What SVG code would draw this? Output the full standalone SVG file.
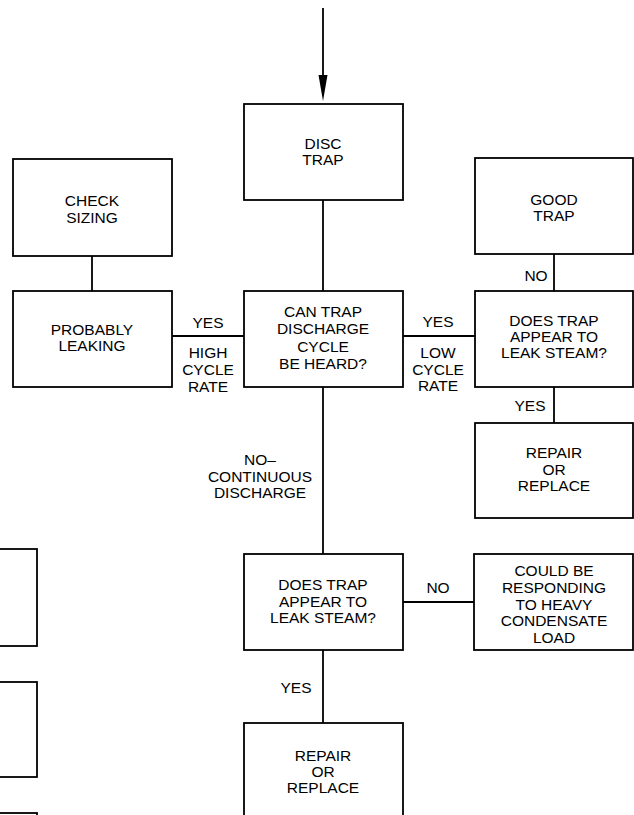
<svg xmlns="http://www.w3.org/2000/svg" width="634" height="815" viewBox="0 0 634 815">
<style>
rect.box{fill:#fff;stroke:#000;stroke-width:1.8}
line{stroke:#000;stroke-width:1.8;fill:none}
text{font-family:"Liberation Sans",Arial,sans-serif;font-size:15.5px;fill:#000;text-anchor:middle}
</style>
<g id="connectors">
<line x1="323" y1="8" x2="323" y2="75"/>
<path d="M318.5,75 L327.5,75 L323,101 Z" fill="#000" stroke="none"/>
<line x1="323" y1="200" x2="323" y2="291"/>
<line x1="92" y1="256" x2="92" y2="291"/>
<line x1="172" y1="336" x2="244" y2="336"/>
<line x1="403" y1="336" x2="475" y2="336"/>
<line x1="554" y1="254" x2="554" y2="291"/>
<line x1="554" y1="387" x2="554" y2="423"/>
<line x1="323" y1="387" x2="323" y2="554"/>
<line x1="403" y1="602" x2="474" y2="602"/>
<line x1="323" y1="650" x2="323" y2="723"/>
</g>
<g id="labels">
<text x="208" y="328">YES</text>
<text x="208" y="358">HIGH</text>
<text x="208" y="375">CYCLE</text>
<text x="208" y="392">RATE</text>
<text x="438" y="327">YES</text>
<text x="438" y="358">LOW</text>
<text x="438" y="375">CYCLE</text>
<text x="438" y="391">RATE</text>
<text x="536" y="281">NO</text>
<text x="530" y="411">YES</text>
<text x="260" y="465">NO–</text>
<text x="260" y="482">CONTINUOUS</text>
<text x="260" y="498">DISCHARGE</text>
<text x="438" y="593">NO</text>
<text x="296" y="693">YES</text>
</g>
<g id="disc-trap">
<rect class="box" x="244" y="104" width="159" height="96"/>
<text x="323" y="149">DISC</text>
<text x="323" y="165">TRAP</text>
</g>
<g id="check-sizing">
<rect class="box" x="13" y="159" width="159" height="97"/>
<text x="92" y="206">CHECK</text>
<text x="92" y="223">SIZING</text>
</g>
<g id="probably-leaking">
<rect class="box" x="13" y="291" width="159" height="96"/>
<text x="92" y="335">PROBABLY</text>
<text x="92" y="351">LEAKING</text>
</g>
<g id="can-trap">
<rect class="box" x="244" y="291" width="159" height="96"/>
<text x="323" y="317">CAN TRAP</text>
<text x="323" y="334">DISCHARGE</text>
<text x="323" y="352">CYCLE</text>
<text x="323" y="369">BE HEARD?</text>
</g>
<g id="good-trap">
<rect class="box" x="475" y="158" width="158" height="96"/>
<text x="554" y="205">GOOD</text>
<text x="554" y="221">TRAP</text>
</g>
<g id="does-trap-right">
<rect class="box" x="475" y="291" width="158" height="96"/>
<text x="554" y="326">DOES TRAP</text>
<text x="554" y="342">APPEAR TO</text>
<text x="554" y="358">LEAK STEAM?</text>
</g>
<g id="repair-right">
<rect class="box" x="475" y="423" width="158" height="95"/>
<text x="554" y="458">REPAIR</text>
<text x="554" y="475">OR</text>
<text x="554" y="491">REPLACE</text>
</g>
<g id="does-trap-lower">
<rect class="box" x="244" y="554" width="159" height="96"/>
<text x="323" y="590">DOES TRAP</text>
<text x="323" y="607">APPEAR TO</text>
<text x="323" y="623">LEAK STEAM?</text>
</g>
<g id="could-be">
<rect class="box" x="474" y="554" width="159" height="96"/>
<text x="554" y="576">COULD BE</text>
<text x="554" y="593">RESPONDING</text>
<text x="554" y="610">TO HEAVY</text>
<text x="554" y="626">CONDENSATE</text>
<text x="554" y="643">LOAD</text>
</g>
<g id="repair-lower">
<rect class="box" x="244" y="723" width="159" height="110"/>
<text x="323" y="761">REPAIR</text>
<text x="323" y="777">OR</text>
<text x="323" y="793">REPLACE</text>
</g>
<g id="partial-left-1"><rect class="box" x="-130" y="549" width="167" height="97"/></g>
<g id="partial-left-2"><rect class="box" x="-130" y="682" width="167" height="95"/></g>
<g id="partial-left-3"><rect class="box" x="-130" y="813" width="167" height="95"/></g>
</svg>
